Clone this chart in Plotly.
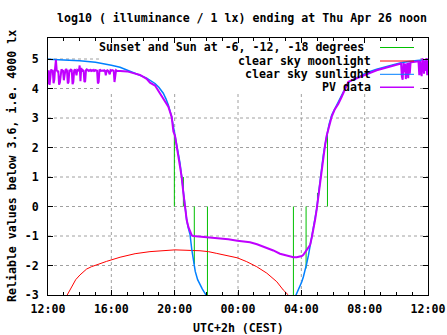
import datetime as dt
import plotly.graph_objects as go

# ---------------- data (hours after Wed Apr 25 12:00 CEST) ----------------
sun_hours = [0.0, 1.0, 2.0, 3.0, 3.5, 4.0, 4.55, 5.0, 5.39, 5.8, 6.23, 6.5, 6.76, 7.0,
             7.28, 7.45, 7.6, 7.81, 7.92, 8.02, 8.13, 8.34, 8.44, 8.55, 8.65, 8.76,
             8.87, 8.97, 9.08, 9.18, 9.3, 9.45, 9.6, 9.75, 9.98, 10.15,
             15.5, 15.67, 15.8, 15.92, 16.03, 16.13, 16.25, 16.34, 16.45, 16.55,
             16.66, 16.76, 16.87, 16.97, 17.08, 17.18, 17.29, 17.39, 17.5, 17.6,
             17.75, 17.92, 18.1, 18.34, 18.55, 18.76, 18.97, 19.3, 19.71, 20.2,
             20.76, 21.3, 21.81, 22.3, 22.66, 23.3, 24.0]
sun_values = [4.99, 4.97, 4.94, 4.89, 4.85, 4.79, 4.72, 4.63, 4.54, 4.45, 4.35, 4.27, 4.17, 4.04,
              3.84, 3.65, 3.44, 3.04, 2.72, 2.48, 2.03, 1.46, 1.01, 0.45, 0.0, -0.46,
              -0.75, -0.95, -1.45, -1.85, -2.2, -2.48, -2.65, -2.8, -3.0, -3.2,
              -3.2, -3.0, -2.85, -2.72, -2.55, -2.38, -2.15, -1.93, -1.65, -1.36,
              -1.05, -0.80, -0.45, -0.08, 0.40, 0.86, 1.30, 1.75, 2.10, 2.42,
              2.78, 3.10, 3.30, 3.52, 3.78, 4.00, 4.20, 4.32, 4.42, 4.55,
              4.65, 4.74, 4.81, 4.87, 4.91, 4.95, 4.98]

moon_hours = [0.8, 1.2, 1.5, 1.75, 2.02, 2.44, 2.75, 3.07, 3.7, 4.55, 5.5, 6.44, 7.07,
              8.02, 9.6, 10.13, 10.66, 11.29, 11.96, 12.55, 13.18, 13.82, 14.45, 14.86,
              15.18, 15.4]
moon_values = [-3.4, -3.0, -2.69, -2.48, -2.32, -2.12, -2.04, -1.97, -1.86, -1.72, -1.60,
               -1.53, -1.50, -1.47, -1.50, -1.53, -1.59, -1.66, -1.74, -1.87, -2.04,
               -2.26, -2.55, -2.83, -3.0, -3.3]

pv_hours = [0.00, 0.05, 0.10, 0.15, 0.20, 0.25, 0.30, 0.35, 0.40, 0.45, 0.50, 0.55,
            0.60, 0.65, 0.70, 0.75, 0.80, 0.85, 0.90, 0.95, 1.00, 1.05, 1.10, 1.15,
            1.20, 1.25, 1.30, 1.35, 1.40, 1.45, 1.50, 1.55, 1.60, 1.65, 1.70, 1.75,
            1.80, 1.85, 1.90, 1.95, 2.00, 2.05, 2.10, 2.15, 2.20, 2.25, 2.30, 2.35,
            2.40, 2.45, 2.50, 2.55, 2.60, 2.65, 2.70, 2.75, 2.80, 2.85, 2.90, 2.95,
            3.00, 3.05, 3.10, 3.15, 3.20, 3.25, 3.30, 3.35, 3.40, 3.45, 3.50, 3.55,
            3.60, 3.65, 3.70, 3.75, 3.80, 3.85, 3.90, 3.95, 4.00, 4.05, 4.10, 4.15,
            4.20, 4.25, 4.30, 4.35, 4.40, 4.45, 4.50, 4.55, 4.60,
            5.0, 5.39, 5.81, 6.23, 6.44, 6.76, 7.07, 7.28, 7.45, 7.6, 7.81, 7.92,
            8.02, 8.13, 8.23, 8.34, 8.44, 8.55, 8.65, 8.76, 8.87, 8.97, 9.08, 9.18,
            9.6, 10.13, 10.8, 11.39, 11.96, 12.4, 12.76, 13.2, 13.6, 14.02, 14.23,
            14.65, 14.86, 15.29, 15.5, 15.71, 16.03, 16.13, 16.25, 16.34, 16.45,
            16.55, 16.66, 16.76, 16.87, 16.97, 17.08, 17.18, 17.29, 17.39, 17.5,
            17.6, 17.75, 17.92, 18.1, 18.34, 18.55, 18.76, 18.97, 19.3, 19.71,
            20.2, 20.76, 21.3, 21.81, 22.2,
            22.25, 22.30, 22.35, 22.40, 22.45, 22.50, 22.55, 22.60, 22.65, 22.70,
            22.75, 22.80, 22.85, 22.90, 22.95, 23.1, 23.3, 23.40, 23.45, 23.50,
            23.55, 23.60, 23.65, 23.70, 23.75, 23.80, 23.85, 23.90, 23.95, 24.0]
pv_values = [4.15, 4.62, 4.12, 4.60, 4.65, 4.58, 4.63, 4.18, 4.30, 4.70, 4.97, 4.62,
             4.58, 4.60, 4.13, 4.20, 4.60, 4.65, 4.62, 4.60, 4.28, 4.58, 4.62, 4.66,
             4.60, 4.17, 4.22, 4.63, 4.60, 4.64, 4.62, 4.15, 4.22, 4.60, 4.65, 4.58,
             4.45, 4.63, 4.62, 4.60, 4.78, 4.25, 4.70, 4.58, 4.62, 4.60, 4.22, 4.25,
             4.62, 4.65, 4.63, 4.60, 4.62, 4.60, 4.63, 4.60, 4.62, 4.60, 4.63, 4.60,
             4.62, 4.60, 4.60, 4.17, 4.22, 4.62, 4.63, 4.60, 4.62, 4.61, 4.60, 4.62,
             4.60, 4.45, 4.60, 4.62, 4.60, 4.50, 4.48, 4.62, 4.60, 4.62, 4.60, 4.60,
             4.22, 4.60, 4.62, 4.60, 4.60, 4.58, 4.60, 4.60, 4.58,
             4.58, 4.52, 4.46, 4.33, 4.20, 4.10, 3.84, 3.68, 3.55, 3.38, 3.04, 2.54,
             2.40, 2.03, 1.75, 1.46, 1.01, 0.45, 0.0, -0.46, -0.70, -0.85, -0.98, -1.0,
             -1.02, -1.04, -1.08, -1.11, -1.16, -1.18, -1.21, -1.28, -1.36, -1.45, -1.49,
             -1.60, -1.63, -1.70, -1.72, -1.72, -1.68, -1.64, -1.55, -1.47, -1.40,
             -1.31, -1.05, -0.80, -0.45, -0.10, 0.35, 0.84, 1.28, 1.75, 2.08,
             2.40, 2.75, 3.05, 3.28, 3.48, 3.72, 3.97, 4.23, 4.30, 4.40,
             4.50, 4.62, 4.70, 4.78, 4.83,
             4.84, 4.85, 4.40, 4.30, 4.86, 4.55, 4.85, 4.32, 4.70, 4.87,
             4.35, 4.88, 4.50, 4.88, 4.89, 4.90, 4.91, 4.92, 4.45, 4.93,
             4.60, 4.42, 5.02, 4.90, 4.50, 4.95, 4.60, 5.03, 4.45, 4.95]

# sunset / sunrise and sun at -6, -12, -18 degrees: time, bar end value
twilight_hours = [7.98, 8.55, 9.24, 10.07, 15.5, 16.3, 17.02, 17.65]
twilight_tops = [2.48, 1.0, -1.95, -3.0, -3.0, -2.1, 0.46, 2.54]

x_grid_hours = [4, 8, 12, 16, 20]
y_ticks = [-3, -2, -1, 0, 1, 2, 3, 4, 5]
y_tick_labels = ["-3", "-2", "-1", "0", "1", "2", "3", "4", "5"]

legend_labels = ["Sunset and Sun at -6, -12, -18 degrees", "clear sky moonlight",
                 "clear sky sunlight", "PV data"]

# ---------------- helpers ----------------
base = dt.datetime(2018, 4, 25, 12, 0)


def to_time(hours):
    return [base + dt.timedelta(hours=h) for h in hours]


GREEN, RED, BLUE, PURPLE = "#00c000", "#ff0000", "#0080ff", "#c000ff"
GRID = "#a0a0a0"
FONT = dict(family="DejaVu Sans Mono", size=11.6, color="black", weight="bold")

tw_x, tw_y = [], []
for h, top in zip(twilight_hours, twilight_tops):
    t = base + dt.timedelta(hours=h)
    tw_x += [t, t, None]
    tw_y += [0, top, None]

fig = go.Figure()
fig.add_trace(go.Scatter(x=tw_x, y=tw_y, mode="lines", line=dict(color=GREEN, width=1),
                         name=legend_labels[0], hoverinfo="skip"))
fig.add_trace(go.Scatter(x=to_time(moon_hours), y=moon_values, mode="lines",
                         line=dict(color=RED, width=1), name=legend_labels[1]))
fig.add_trace(go.Scatter(x=to_time(sun_hours), y=sun_values, mode="lines",
                         line=dict(color=BLUE, width=1.5), name=legend_labels[2]))
fig.add_trace(go.Scatter(x=to_time(pv_hours), y=pv_values, mode="lines",
                         line=dict(color=PURPLE, width=2), name=legend_labels[3]))

# plot area in pixels: x 48..428, y 38..295
L, R, T, B = 48, 428, 38, 295
W, H = R - L, B - T


def px(x):
    return (x - L) / W


def py(y):
    return (B - y) / H


# grid (dotted), kept out of the opaque key box (x 100..420 px, y 38..92 px)
KEY_X0, KEY_X1, KEY_Y0 = px(100), px(420), py(92)
grid_line = dict(color=GRID, width=1, dash="3px,3px")
for hh in x_grid_hours:
    xfrac = hh / 24.0
    top = KEY_Y0 if KEY_X0 <= xfrac <= KEY_X1 else 1.0
    fig.add_shape(type="line", xref="x domain", yref="y domain", x0=xfrac, x1=xfrac,
                  y0=0, y1=top, line=grid_line, layer="below")
y_lo, y_hi = -3, 5.712
for v in y_ticks[1:]:
    yfrac = (v - y_lo) / (y_hi - y_lo)
    if yfrac >= KEY_Y0:
        fig.add_shape(type="line", xref="x domain", yref="y domain", x0=0, x1=KEY_X0,
                      y0=yfrac, y1=yfrac, line=grid_line, layer="below")
        fig.add_shape(type="line", xref="x domain", yref="y domain", x0=KEY_X1, x1=1,
                      y0=yfrac, y1=yfrac, line=grid_line, layer="below")
    else:
        fig.add_shape(type="line", xref="x domain", yref="y domain", x0=0, x1=1,
                      y0=yfrac, y1=yfrac, line=grid_line, layer="below")

annotations = []
row_y = [47.5, 61, 74.3, 87.3]
row_right = [366, 373, 373, 373]
colors = [GREEN, RED, BLUE, PURPLE]
for lab, yy, xr, c in zip(legend_labels, row_y, row_right, colors):
    annotations.append(dict(text=lab, xref="paper", yref="paper", x=px(xr), y=py(yy),
                            xanchor="right", yanchor="middle", showarrow=False, font=FONT))
    fig.add_shape(type="line", xref="paper", yref="paper", x0=px(380), x1=px(414),
                  y0=py(yy), y1=py(yy), line=dict(color=c, width=1.5 if c == PURPLE else 1))

annotations.append(dict(text="UTC+2h (CEST)", xref="paper", yref="paper", x=0.5,
                        y=py(328), xanchor="center", yanchor="middle", showarrow=False,
                        font=FONT))
annotations.append(dict(text="Reliable values below 3.6, i.e. 4000 lx", xref="paper",
                        yref="paper", x=px(12), y=py(166), xanchor="center",
                        yanchor="middle", textangle=-90, showarrow=False, font=FONT))

fig.update_layout(
    width=447, height=335, autosize=False,
    margin=dict(l=L, r=447 - R, t=T, b=335 - B, pad=0, autoexpand=False),
    paper_bgcolor="white", plot_bgcolor="white",
    showlegend=False,
    font=FONT,
    title=dict(text="log10 ( illuminance / 1 lx) ending at Thu Apr 26 noon",
               x=px(242), xref="paper", xanchor="center", y=1 - 18 / 335,
               yref="container", yanchor="middle", font=FONT),
    annotations=annotations,
)

fig.update_xaxes(
    type="date", range=[base, base + dt.timedelta(hours=24)],
    tick0=base, dtick=4 * 3600 * 1000, tickformat="%H:%M",
    ticks="inside", ticklen=5, tickcolor="black", tickwidth=1,
    showline=True, linecolor="black", linewidth=1, mirror="ticks",
    showgrid=False, zeroline=False, tickfont=FONT, ticklabelstandoff=3,
    automargin=False,
    minor=dict(dtick=3600 * 1000, ticks="inside", ticklen=3, tickcolor="black",
               showgrid=False),
)
fig.update_yaxes(
    range=[y_lo, y_hi], tickvals=y_ticks, ticktext=y_tick_labels,
    ticks="inside", ticklen=5, tickcolor="black", tickwidth=1,
    showline=True, linecolor="black", linewidth=1, mirror="ticks",
    showgrid=False, zeroline=False, tickfont=FONT, ticklabelstandoff=6,
    automargin=False,
)

fig.write_html("out.html")
